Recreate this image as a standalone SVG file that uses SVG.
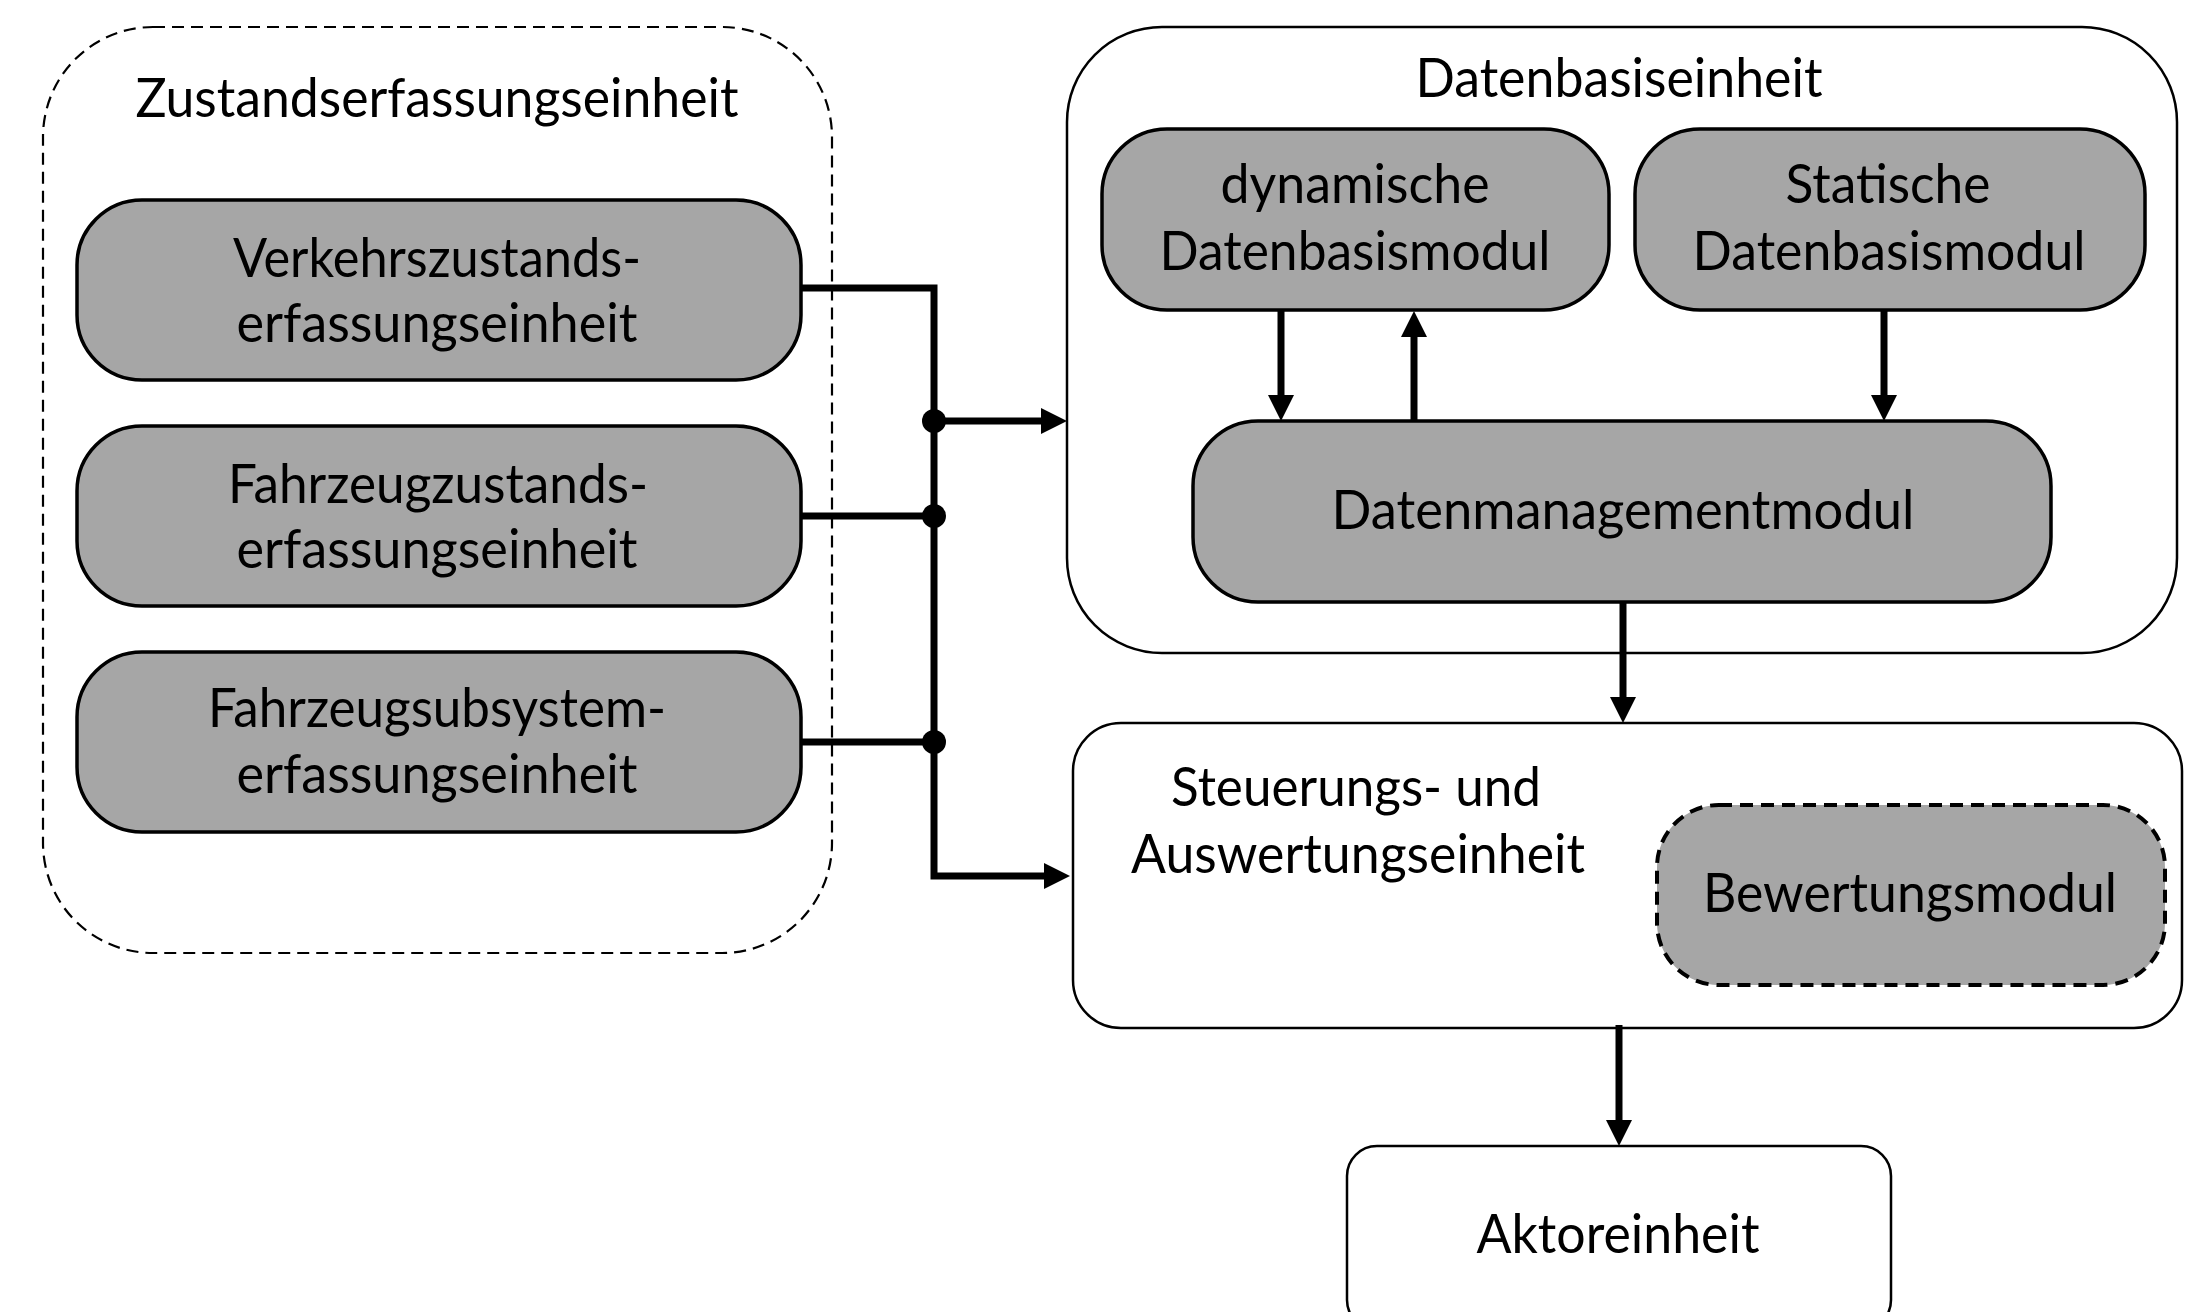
<svg xmlns="http://www.w3.org/2000/svg" width="2204" height="1312" viewBox="0 0 2204 1312">
<style>
  .t { font-family: Lato, "Open Sans", "Liberation Sans", sans-serif; font-size: 54px; fill: #000; text-anchor: middle; }
  .gray { fill: #A6A6A6; stroke: #000; stroke-width: 3.5; }
  .white { fill: #fff; stroke: #000; stroke-width: 2.5; }
  .dash { fill: none; stroke: #000; stroke-width: 2.2; stroke-dasharray: 12 7; }
  .gdash { fill: #A6A6A6; stroke: #000; stroke-width: 4; stroke-dasharray: 13 8; }
  .c { fill: none; stroke: #000; stroke-width: 7; stroke-linejoin: miter; }
</style>
<defs>
  <marker id="ah" viewBox="0 0 26 26" refX="0" refY="13" markerWidth="26" markerHeight="26" markerUnits="userSpaceOnUse" orient="auto">
    <path d="M0,0 L26,13 L0,26 z" fill="#000"/>
  </marker>
</defs>
<rect width="2204" height="1312" fill="#fff"/>

<g id="zustandserfassungseinheit">
  <rect class="dash" x="43" y="27" width="789" height="926" rx="110" ry="110"/>
  <text class="t" x="437" y="117" textLength="603" lengthAdjust="spacingAndGlyphs">Zustandserfassungseinheit</text>
</g>
<g id="verkehrszustand">
  <rect class="gray" x="77" y="200" width="724" height="180" rx="65" ry="65"/>
  <text class="t" x="437" y="277" textLength="408" lengthAdjust="spacingAndGlyphs">Verkehrszustands-</text>
  <text class="t" x="437" y="342" textLength="401" lengthAdjust="spacingAndGlyphs">erfassungseinheit</text>
</g>
<g id="fahrzeugzustand">
  <rect class="gray" x="77" y="426" width="724" height="180" rx="65" ry="65"/>
  <text class="t" x="438" y="503" textLength="420" lengthAdjust="spacingAndGlyphs">Fahrzeugzustands-</text>
  <text class="t" x="437" y="568" textLength="401" lengthAdjust="spacingAndGlyphs">erfassungseinheit</text>
</g>
<g id="fahrzeugsubsystem">
  <rect class="gray" x="77" y="652" width="724" height="180" rx="65" ry="65"/>
  <text class="t" x="437" y="727" textLength="458" lengthAdjust="spacingAndGlyphs">Fahrzeugsubsystem-</text>
  <text class="t" x="437" y="793" textLength="401" lengthAdjust="spacingAndGlyphs">erfassungseinheit</text>
</g>

<g id="datenbasiseinheit">
  <rect class="white" x="1067" y="27" width="1110" height="626" rx="95" ry="95"/>
  <text class="t" x="1619" y="97" textLength="407" lengthAdjust="spacingAndGlyphs">Datenbasiseinheit</text>
</g>
<g id="dynamische">
  <rect class="gray" x="1102" y="129" width="507" height="181" rx="65" ry="65"/>
  <text class="t" x="1355" y="203" textLength="269" lengthAdjust="spacingAndGlyphs">dynamische</text>
  <text class="t" x="1355" y="270" textLength="391" lengthAdjust="spacingAndGlyphs">Datenbasismodul</text>
</g>
<g id="statische">
  <rect class="gray" x="1635" y="129" width="510" height="181" rx="65" ry="65"/>
  <text class="t" x="1888" y="203" textLength="205" lengthAdjust="spacingAndGlyphs">Statische</text>
  <text class="t" x="1889" y="270" textLength="393" lengthAdjust="spacingAndGlyphs">Datenbasismodul</text>
</g>
<g id="datenmanagement">
  <rect class="gray" x="1193" y="421" width="858" height="181" rx="65" ry="65"/>
  <text class="t" x="1623" y="529" textLength="583" lengthAdjust="spacingAndGlyphs">Datenmanagementmodul</text>
</g>

<g id="steuerung">
  <rect class="white" x="1073" y="723" width="1109" height="305" rx="48" ry="48"/>
  <text class="t" x="1356" y="806" textLength="370" lengthAdjust="spacingAndGlyphs">Steuerungs- und</text>
  <text class="t" x="1358" y="873" textLength="454" lengthAdjust="spacingAndGlyphs">Auswertungseinheit</text>
</g>
<g id="bewertung">
  <rect class="gdash" x="1657" y="805" width="508" height="180" rx="62" ry="62"/>
  <text class="t" x="1910" y="912" textLength="414" lengthAdjust="spacingAndGlyphs">Bewertungsmodul</text>
</g>
<g id="aktor">
  <rect class="white" x="1347" y="1146" width="544" height="184" rx="30" ry="30"/>
  <text class="t" x="1618" y="1253" textLength="283" lengthAdjust="spacingAndGlyphs">Aktoreinheit</text>
</g>

<g id="connectors">
  <polyline class="c" points="801,288 934,288 934,876 1044,876" marker-end="url(#ah)"/>
  <line class="c" x1="801" y1="516" x2="934" y2="516"/>
  <line class="c" x1="801" y1="742" x2="934" y2="742"/>
  <line class="c" x1="934" y1="421" x2="1041" y2="421" marker-end="url(#ah)"/>
  <circle cx="934" cy="421" r="12" fill="#000"/>
  <circle cx="934" cy="516" r="12" fill="#000"/>
  <circle cx="934" cy="742" r="12" fill="#000"/>
  <line class="c" x1="1281" y1="310" x2="1281" y2="395" marker-end="url(#ah)"/>
  <line class="c" x1="1414" y1="421" x2="1414" y2="337" marker-end="url(#ah)"/>
  <line class="c" x1="1884" y1="310" x2="1884" y2="395" marker-end="url(#ah)"/>
  <line class="c" x1="1623" y1="602" x2="1623" y2="697" marker-end="url(#ah)"/>
  <line class="c" x1="1619" y1="1025" x2="1619" y2="1120" marker-end="url(#ah)"/>
</g>
</svg>
